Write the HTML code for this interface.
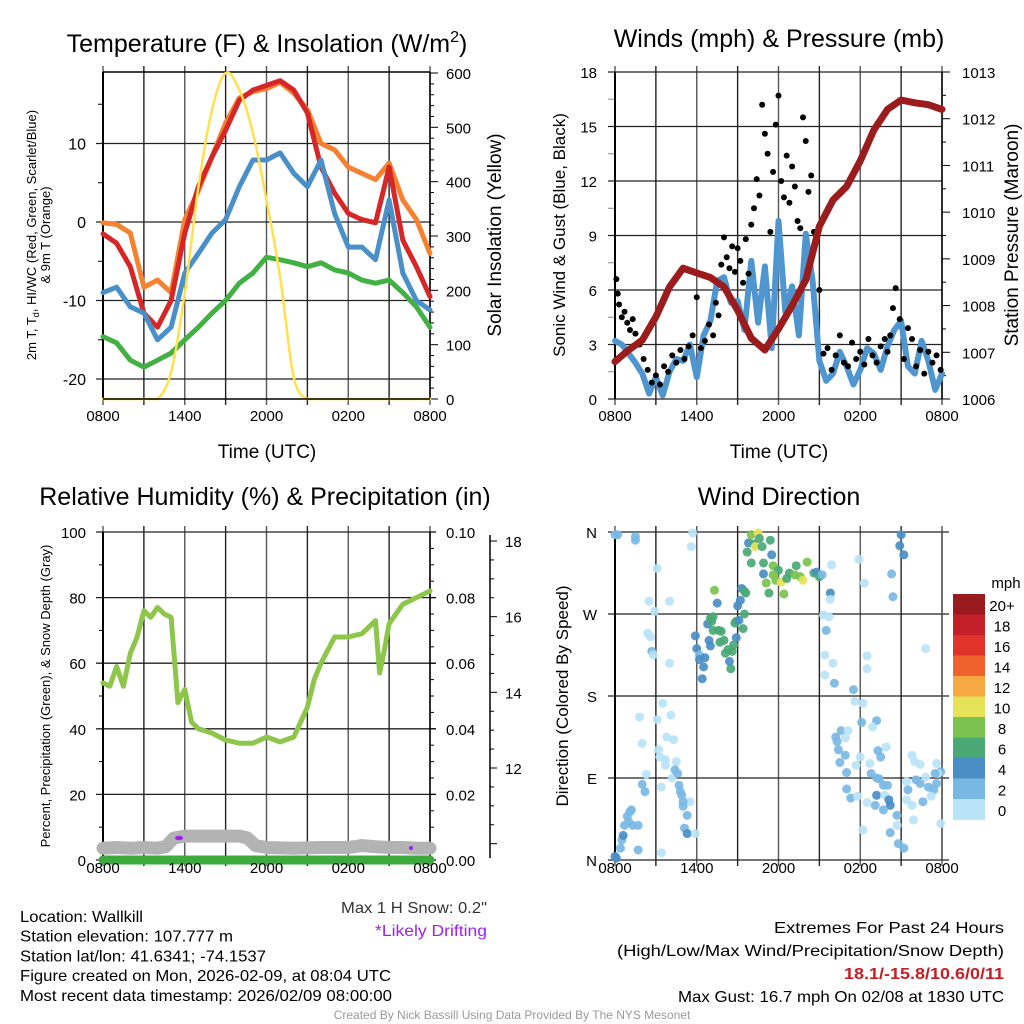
<!DOCTYPE html>
<html><head><meta charset="utf-8"><style>
html,body{margin:0;padding:0;background:#fff;}
svg{display:block;font-family:"Liberation Sans",Arial,sans-serif;}
</style></head><body>
<svg id="chart" width="1024" height="1024" viewBox="0 0 1024 1024" xmlns="http://www.w3.org/2000/svg">
<rect width="1024" height="1024" fill="#fff"/>
<g id="layer"></g>
</svg>
<script>
// ---- data ----
const hoursLabels = ["0800","1400","2000","0200","0800"];
// panel 1 hourly (0..24)
const temp2m   = [-1.5,-2.7,-5.7,-11.6,-13.4,-10,-1.4,4.5,8.3,11.7,15.5,16.8,17.4,18,16.8,13.9,7,3.7,1.1,0.3,-0.1,7,-2.3,-5.7,-9.5];
const temp9m   = [-0.1,-0.3,-1.4,-8.3,-7.4,-9,0.3,4,8.3,12.6,15.8,16.6,17,17.8,16.4,14.3,10,9.2,7,6.2,5.4,7.5,2.8,0.3,-4];
const heatWC   = [-9,-8.3,-10.8,-11.6,-15,-13.4,-6.5,-4,-1.4,0.3,4.5,7.9,7.9,8.8,6.2,4.5,7.9,1.1,-3.2,-3.2,-4.8,2.8,-6.5,-10,-11.2];
const dewpoint = [-14.6,-15.4,-17.6,-18.5,-17.6,-16.7,-15,-13.4,-11.6,-10,-7.8,-6.5,-4.5,-4.8,-5.2,-5.7,-5.2,-6.1,-6.5,-7.4,-7.8,-7.4,-9,-10.8,-13.4];
const solar    = [0,0,0,0,0,50,195,390,532,600,569,490,366,225,40,0,0,0,0,0,0,0,0,0,0];
// panel 2
const pressure = [1006.8,1007.05,1007.26,1007.76,1008.4,1008.8,1008.7,1008.6,1008.4,1007.9,1007.3,1007.05,1007.5,1008,1008.55,1009.7,1010.26,1010.55,1011.1,1011.76,1012.2,1012.4,1012.34,1012.3,1012.2];
const windT    = [0,0.5,1,1.5,2,2.5,3,3.5,4,4.5,5,5.5,6,6.5,7,7.5,8,8.5,9,9.5,10,10.5,11,11.5,12,12.5,13,13.5,14,14.5,15,15.5,16,16.5,17,17.5,18,18.5,19,19.5,20,20.5,21,21.5,22,22.5,23,23.5,24];
const windSpd  = [3.2,3,2.5,2,1.4,0.3,1.2,0.2,1.5,2.2,2.1,3,1.2,3.5,4.3,6.5,6.7,5.3,5.4,3.8,7.6,4.2,7.3,2.8,9.8,4.8,6.2,3.5,9.1,6.5,2.1,1.0,1.4,2.6,1.8,0.8,1.6,2.8,2.5,1.6,2.9,3.8,4.3,1.8,1.4,3.2,2.1,0.5,1.4];
const gustT    = [0.1,0.2,0.3,0.5,0.7,0.9,1.1,1.3,1.5,1.8,2.1,2.4,2.7,3.0,3.3,3.6,3.9,4.2,4.5,4.8,5.1,5.4,5.7,6.0,6.3,6.6,6.9,7.2,7.4,7.6,7.8,8.0,8.2,8.4,8.6,8.8,9.0,9.2,9.4,9.6,9.8,10.0,10.2,10.4,10.6,10.8,11.0,11.2,11.4,11.6,11.8,12.0,12.2,12.4,12.6,12.8,13.0,13.2,13.4,13.6,13.8,14.0,14.2,14.4,14.6,14.8,15.0,15.3,15.6,15.9,16.2,16.5,16.8,17.1,17.4,17.7,18.0,18.3,18.6,18.9,19.2,19.5,19.8,20.0,20.2,20.4,20.6,20.9,21.2,21.5,21.8,22.1,22.4,22.7,23.0,23.3,23.6,23.9];
const gustVal  = [6.6,5.8,5.2,4.5,4.8,4.2,3.8,4.4,3.6,3.0,2.2,1.6,0.9,1.3,0.8,1.8,1.5,2.4,2.0,2.7,2.2,2.9,3.5,5.6,2.8,3.2,4.1,3.5,5.3,4.6,7.4,8.9,7.8,7.2,8.4,7.0,8.3,7.6,6.4,8.8,6.9,9.6,10.5,12.1,11.2,16.2,14.6,13.5,9.2,12.5,15.1,16.7,12.0,11.1,13.4,10.8,12.8,11.7,9.8,9.4,15.5,14.2,11.4,12.3,9.2,8.8,6.0,2.5,2.8,1.6,2.4,3.5,2.0,1.8,3.1,2.2,2.6,1.9,3.3,2.4,2.0,2.9,3.3,2.6,3.5,5.0,6.1,4.4,2.2,3.9,3.3,1.8,2.7,1.4,2.6,2.0,2.4,1.6];
// panel 3
const rhT      = [0,0.5,1,1.5,2,2.5,3,3.5,4,4.5,5,5.5,6,6.5,7,8,9,10,11,12,13,14,14.5,15,15.5,16,17,18,19,20,20.3,20.6,21,22,23,24];
const rhVal    = [54,53,59,53,63,68,76,74,77,75,74,48,52,42,40,38.7,36.6,35.6,35.6,37.5,36,37.5,42,46.6,55,60,68,68,69,73,57,63,72,78,80,82];
const snowT    = [0,1,2,3,4,4.6,5.2,6,8,10,10.6,11.2,12,14,16,18,19,20,21,22,23,24];
const snowDepth= [9.88,9.9,9.88,9.9,9.88,9.92,10.15,10.2,10.2,10.2,10.15,9.95,9.9,9.88,9.9,9.9,9.95,9.92,9.9,9.9,9.88,9.88];
const precip   = [0,0];
// panel 4
const dirT  = [0,0.1,0.4,0.5,0.6,0.7,0.9,1.1,1.2,1.0,1.3,1.7,1.7,0.2,0,1.5,1.5,
5.7,5.6,3.1,2.5,4.0,2.9,2.4,2.6,2.7,2.8,4.0,3.5,1.8,3.1,4.1,3.8,4.3,2.0,3.2,3.3,3.7,4.5,3.7,4.4,4.2,4.6,2.3,2.0,3.4,2.2,4.7,4.8,4.9,5.5,5.0,5.0,5.3,5.1,5.3,5.9,3.4,
5.9,6.0,6.2,6.2,6.5,6.4,6.6,6.9,7.0,6.8,7.1,7.2,7.0,7.3,7.5,7.2,7.6,7.8,7.7,8.0,8.1,8.3,8.6,8.5,8.4,8.7,8.9,8.8,8.9,9.0,9.2,9.3,9.5,9.6,9.5,9.4,9.1,
9.8,10.0,10.2,10.5,10.3,10.6,10.8,11.4,9.7,10.0,10.9,11.5,11.6,10.9,12.0,11.1,11.3,11.6,11.8,12.2,12.4,12.6,12.8,13.2,13.3,13.6,13.8,14.1,14.6,14.8,15.0,15.2,15.8,15.8,
15.9,17.9,18.3,21.0,20.9,21.2,20.3,20.4,15.3,15.7,15.5,15.4,16.0,15.4,16.1,17.5,17.6,18.2,18.5,18.5,22.8,18.1,19.2,18.9,16.2,16.6,17.1,16.9,16.3,16.4,16.9,16.5,17.0,18.0,17.7,18.7,19.3,19.5,19.9,18.8,19.2,19.4,19.7,20.0,19.2,19.8,20.1,20.2,19.7,20.7,19.1,18.5,17.3,17.0,17.8,20.7,20.2,20.8,21.2,18.2,21.8,22.0,22.4,23.6,21.4,21.5,21.8,22.1,22.4,22.8,23.0,23.4,23.6,23.9,23.7,22.6,23.2,21.4,21.9,23.9,23.5];
const dirVal= [4,2,13,22,27,38,48,53,55,42,38,38,11,357,357,355,351,
359,344,320,284,284,273,249,245,229,225,216,172,157,154,159,135,132,128,121,113,110,108,104,99,90,95,94,83,80,75,82,75,71,64,64,59,49,35,29,29,8,
246,232,225,220,212,199,222,241,235,259,262,267,265,296,282,252,252,251,239,241,227,231,229,210,218,236,244,260,262,279,285,298,295,293,270,254,263,
348,357,347,359,344,353,344,351,338,326,326,335,323,314,318,304,293,313,307,305,292,309,315,313,323,311,307,327,315,316,311,313,293,286,
324,330,304,357,345,335,314,289,269,267,252,225,216,203,194,187,174,172,224,210,232,151,153,146,135,142,142,134,130,121,115,107,96,113,104,106,120,113,124,95,90,89,82,82,71,71,66,60,55,49,60,63,68,78,70,38,30,18,13,33,115,108,105,106,86,77,60,88,84,91,80,77,84,97,95,64,70,66,44,40,95];
const dirSpd= [4,4,3,3,4,3,3,3,3,3,3,3,3,2,2,3,3,
1,1,1,1,1,1,1,1,2,1,1,1,1,1,1,1,1,1,1,1,1,1,1,2,1,2,1,2,1,2,2,2,2,1,2,2,2,2,4,1,1,
4,4,3,4,4,4,4,4,4,4,6,6,6,8,4,6,6,6,6,6,6,6,6,6,4,6,4,6,6,4,4,4,6,6,6,6,4,
4,8,6,10,10,6,6,6,6,6,6,4,8,4,6,8,6,8,8,10,8,6,6,8,6,8,10,8,6,4,6,2,4,1,
1,1,1,4,4,4,3,3,1,1,3,1,1,1,3,3,1,1,1,1,1,3,3,1,3,3,1,1,3,3,3,3,3,1,1,1,3,3,1,3,3,3,3,3,4,1,4,4,3,3,3,1,3,3,1,1,3,3,3,1,1,1,1,1,1,3,1,3,3,1,3,3,3,3,1,3,1,1,1,1,3];
const cbLabels = ["20+","18","16","14","12","10","8","6","4","2","0"];
const cbColors = ["#9a1b1e","#c4202a","#e03329","#f0622c","#f8a843","#e6e25a","#7cc24e","#4aa874","#4a8ec6","#7ab8e4","#b9e3f7"];

// ---- helpers ----
const NS="http://www.w3.org/2000/svg";
const layer=document.getElementById('layer');
function el(tag,attrs,parent,txt){const e=document.createElementNS(NS,tag);for(const k in attrs)e.setAttribute(k,attrs[k]);if(txt!==undefined)e.textContent=txt;(parent||layer).appendChild(e);return e;}
function grp(name){const g=el('g',{});return g;}
function txt(g,x,y,s,size,anchor,extra){const a=Object.assign({x:x,y:y,'font-size':size,'text-anchor':anchor||'middle',fill:'#000'},extra||{});return el('text',a,g,s);}
function vtxt(g,x,y,s,size){return el('text',{x:0,y:0,'font-size':size,'text-anchor':'middle',fill:'#000',transform:`translate(${x},${y}) rotate(-90)`},g,s);}
function mkX(x0,x1){return h=>x0+(x1-x0)*h/24;}
function mkY(v0,v1,y0,y1){return v=>y0+(y1-y0)*(v-v0)/(v1-v0);}
function line(g,xs,ys,color,w,name){let d='';for(let i=0;i<xs.length;i++)d+=(i?'L':'M')+xs[i].toFixed(1)+' '+ys[i].toFixed(1);const p=el('path',{d:d,fill:'none',stroke:color,'stroke-width':w,'stroke-linejoin':'round','stroke-linecap':'round'},g);return p;}
function smooth(g,xs,ys,color,w,name,ymax){const pts=[];for(let i=0;i<xs.length-1;i++){const p0=i?i-1:i,p3=i+2<xs.length?i+2:i+1;for(let k=0;k<8;k++){const t=k/8,t2=t*t,t3=t2*t;const f=(a,b,c,d)=>0.5*((2*b)+(-a+c)*t+(2*a-5*b+4*c-d)*t2+(-a+3*b-3*c+d)*t3);pts.push([f(xs[p0],xs[i],xs[i+1],xs[p3]),Math.min(ymax,f(ys[p0],ys[i],ys[i+1],ys[p3]))]);}}pts.push([xs[xs.length-1],ys[ys.length-1]]);return line(g,pts.map(p=>p[0]),pts.map(p=>p[1]),color,w,name);}
function vgrid(g,X,yT,yB){for(let i=0;i<=8;i++){const x=X(i*3);el('line',{x1:x,x2:x,y1:yT-6,y2:yB+6,stroke:i%2?'#222':'#555','stroke-width':1.4},g);}}
function xlabels(g,X,y){hoursLabels.forEach((s,i)=>txt(g,X(i*6),y,s,15));}

// ===== Panel 1 =====
(function(){
const g=grp('temperature-panel');
const X=mkX(103,430), T=mkY(0,10,222,143.5), S=mkY(0,600,399,73);
const tt=txt(g,267,52,'',25);tt.innerHTML='Temperature (F) &amp; Insolation (W/m<tspan dy="-10" font-size="16">2</tspan><tspan dy="10">)</tspan>';

vgrid(g,X,72,399);
[-20,-10,0,10].forEach(v=>{el('line',{x1:96,x2:430,y1:T(v),y2:T(v),stroke:'#222','stroke-width':1.3},g);txt(g,86,T(v)+6,String(v),16,'end');});
[-15,-5,5,15].forEach(v=>el('line',{x1:98,x2:103,y1:T(v),y2:T(v),stroke:'#000'},g));
for(let v=0;v<=600;v+=20){el('line',{x1:430,x2:v%100?434:438,y1:S(v),y2:S(v),stroke:'#000'},g);}
for(let v=0;v<=600;v+=100)txt(g,446,S(v)+6,String(v),15,'start');
el('line',{x1:103,x2:430,y1:72,y2:72,stroke:'#000','stroke-width':1.5},g);
el('line',{x1:103,x2:103,y1:72,y2:399,stroke:'#000','stroke-width':2},g);
el('line',{x1:430,x2:430,y1:72,y2:399,stroke:'#000','stroke-width':1.5},g);
const xs=temp2m.map((_,i)=>X(i));
line(g,xs,temp9m.map(T),'#f58231',5,'line-9m-temp');
line(g,xs,temp2m.map(T),'#d62728',5,'line-2m-temp');
line(g,xs,heatWC.map(T),'#4a90c8',5,'line-hiwc');
line(g,xs,dewpoint.map(T),'#43b043',5,'line-dewpoint');
smooth(g,xs,solar.map(S),'#ffe14d',2.5,'line-solar',399);
el('line',{x1:103,x2:430,y1:399,y2:399,stroke:'#000','stroke-width':1.5},g);
xlabels(g,X,421);
txt(g,267,458,'Time (UTC)',19);
const yt=el('text',{x:0,y:0,'font-size':13,'text-anchor':'middle',transform:'translate(36,235) rotate(-90)'},g);
yt.innerHTML='2m T, T<tspan dy="3" font-size="9">d</tspan><tspan dy="-3">, HI/WC (Red, Green, Scarlet/Blue)</tspan>';
vtxt(g,50,235,'& 9m T (Orange)',13);
vtxt(g,501,235,'Solar Insolation (Yellow)',19);
})();

// ===== Panel 2 =====
(function(){
const g=grp('winds-panel');
const X=mkX(615,942), W=mkY(0,18,399,72), P=mkY(1006,1013,399,72);
txt(g,779,47,'Winds (mph) & Pressure (mb)',25);
vgrid(g,X,72,399);
for(let v=0;v<=18;v+=3){el('line',{x1:608,x2:942,y1:W(v),y2:W(v),stroke:'#222','stroke-width':1.3},g);txt(g,597,W(v)+6,String(v),15,'end');}
for(let v=1.5;v<18;v+=3)el('line',{x1:608,x2:615,y1:W(v),y2:W(v),stroke:'#888'},g);
for(let v=1006;v<=1013;v+=0.5)el('line',{x1:942,x2:v%1?946:950,y1:P(v),y2:P(v),stroke:'#000'},g);
for(let v=1006;v<=1013;v++)txt(g,962,P(v)+6,String(v),15,'start');
el('line',{x1:615,x2:615,y1:72,y2:399,stroke:'#000','stroke-width':2},g);
el('line',{x1:942,x2:942,y1:72,y2:399,stroke:'#000','stroke-width':1.5},g);
line(g,windT.map(X),windSpd.map(W),'#4f96d0',6,'line-sonic-wind');
gustT.forEach((t,i)=>{const c=el('circle',{cx:X(t),cy:W(gustVal[i]),r:3,fill:'#000'},g);

});
line(g,pressure.map((_,i)=>X(i)),pressure.map(P),'#9b1c1c',7,'line-pressure');
xlabels(g,X,421);
txt(g,779,458,'Time (UTC)',19);
vtxt(g,565,235,'Sonic Wind & Gust (Blue, Black)',17);
vtxt(g,1018,235,'Station Pressure (Maroon)',19);
})();

// ===== Panel 3 =====
(function(){
const g=grp('humidity-panel');
const X=mkX(103,430), R=mkY(0,100,860,532), SD=mkY(12,18,768,541);
txt(g,265,505,'Relative Humidity (%) & Precipitation (in)',25);
vgrid(g,X,532,860);
for(let v=0;v<=100;v+=20){el('line',{x1:96,x2:436,y1:R(v),y2:R(v),stroke:'#222','stroke-width':1.3},g);txt(g,86,R(v)+6,String(v),15,'end');}
for(let v=5;v<100;v+=5)if(v%20)el('line',{x1:v%10?103:99,x2:103,y1:R(v),y2:R(v),stroke:'#000'},g);
for(let v=0;v<=100;v+=5)el('line',{x1:430,x2:v%20?434:436,y1:R(v),y2:R(v),stroke:'#000'},g);
for(let v=0;v<=10;v+=2)txt(g,446,R(v*10)+6,(v/100).toFixed(2),15,'start');
el('line',{x1:103,x2:103,y1:532,y2:860,stroke:'#000','stroke-width':2},g);
el('line',{x1:430,x2:430,y1:532,y2:860,stroke:'#000','stroke-width':1.5},g);
el('line',{x1:490,x2:490,y1:535,y2:858,stroke:'#000','stroke-width':1.5},g);
for(let v=10;v<=18.5;v+=0.5)if(SD(v)>535&&SD(v)<858)el('line',{x1:490,x2:v%2?494:497,y1:SD(v),y2:SD(v),stroke:'#000'},g);
[12,14,16,18].forEach(v=>txt(g,505,SD(v)+6,String(v),15,'start'));
line(g,rhT.map(X),rhVal.map(R),'#8dc64a',5,'line-rh');
line(g,snowT.map(X),snowDepth.map(SD),'#b3b3b3',13,'line-snow-depth');
line(g,[X(0),X(24)],precip.map(v=>R(v*1000)),'#3caa3c',9,'line-precip');
const d1=el('ellipse',{cx:179,cy:838,rx:4,ry:2.3,fill:'#a020f0'},g);


const d2=el('circle',{cx:411,cy:848,r:2,fill:'#a020f0'},g);


xlabels(g,X,873);
vtxt(g,50,696,'Percent, Precipitation (Green), & Snow Depth (Gray)',13);
txt(g,487,913,'Max 1 H Snow: 0.2"',16,'end',{fill:'#333',textLength:146,lengthAdjust:'spacingAndGlyphs'});
txt(g,487,936,'*Likely Drifting',16,'end',{fill:'#a020f0',textLength:112,lengthAdjust:'spacingAndGlyphs'});
})();

// ===== Panel 4 =====
(function(){
const g=grp('wind-direction-panel');
const X=mkX(615,942), D=mkY(0,360,860,532);
txt(g,779,505,'Wind Direction',25);
vgrid(g,X,532,860);
['N','E','S','W','N'].forEach((s,i)=>{const y=D(i*90);el('line',{x1:608,x2:949,y1:y,y2:y,stroke:'#222','stroke-width':1.3},g);txt(g,597,y+6,s,15,'end');});
el('line',{x1:615,x2:615,y1:532,y2:860,stroke:'#000','stroke-width':2},g);
el('line',{x1:942,x2:942,y1:532,y2:860,stroke:'#555','stroke-width':1.5},g);
dirT.forEach((t,i)=>{const idx=10-Math.min(10,Math.floor(dirSpd[i]/2));
const c=el('circle',{cx:X(t),cy:D(dirVal[i]),r:4.5,fill:cbColors[idx],'fill-opacity':0.92},g);

});
xlabels(g,X,873);
vtxt(g,568,696,'Direction (Colored By Speed)',17);
const cb=grp('speed-colorbar');
txt(cb,1006,588,'mph',15);
cbColors.forEach((c,i)=>{el('rect',{x:953,y:594+i*20.5,width:32,height:20.8,fill:c},cb);txt(cb,1002,611+i*20.5,cbLabels[i],15);});
})();

// ===== footer text =====
(function(){
const g=grp('station-info');
const L=['Location: Wallkill','Station elevation: 107.777 m','Station lat/lon: 41.6341; -74.1537','Figure created on Mon, 2026-02-09, at 08:04 UTC','Most recent data timestamp: 2026/02/09 08:00:00'];
const LW=[123,213,246,371,372];
L.forEach((s,i)=>txt(g,20,922+i*19.7,s,16,'start',{textLength:LW[i],lengthAdjust:'spacingAndGlyphs'}));
const r=grp('extremes-summary');
txt(r,1004,933,'Extremes For Past 24 Hours',16,'end',{textLength:230,lengthAdjust:'spacingAndGlyphs'});
txt(r,1004,956,'(High/Low/Max Wind/Precipitation/Snow Depth)',16,'end',{textLength:387,lengthAdjust:'spacingAndGlyphs'});
txt(r,1004,979,'18.1/-15.8/10.6/0/11',16,'end',{fill:'#c41e24','font-weight':'bold',textLength:160,lengthAdjust:'spacingAndGlyphs'});
txt(r,1004,1002,'Max Gust: 16.7 mph On 02/08 at 1830 UTC',16,'end',{textLength:326,lengthAdjust:'spacingAndGlyphs'});
const c=grp('credit-line');
txt(c,512,1019,'Created By Nick Bassill Using Data Provided By The NYS Mesonet',12,'middle',{fill:'#999'});
})();
</script>
</body></html>
